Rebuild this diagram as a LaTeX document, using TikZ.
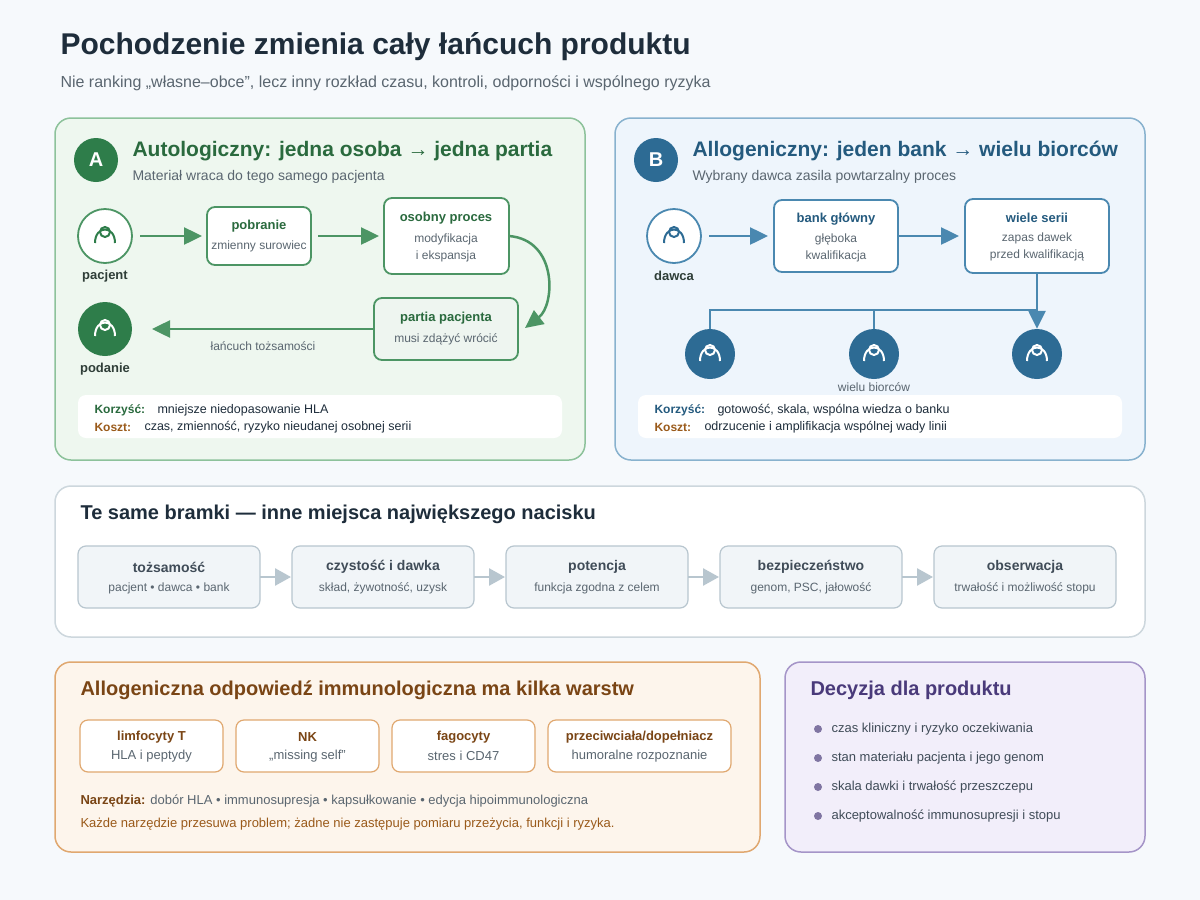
\documentclass[tikz,border=0pt]{standalone}
\usepackage{fontspec}
\setmainfont{Liberation Sans}
\usetikzlibrary{arrows.meta}
\definecolor{bg}{HTML}{F6F9FC}
\definecolor{ttl}{HTML}{1E2D3B}
\definecolor{sub}{HTML}{5A6670}
\definecolor{gA}{HTML}{2E7D4A}
\definecolor{gAt}{HTML}{2A6A3E}
\definecolor{gAf}{HTML}{EEF7EF}
\definecolor{gAs}{HTML}{8DC29B}
\definecolor{gArr}{HTML}{4C9564}
\definecolor{bB}{HTML}{2D6B94}
\definecolor{bBt}{HTML}{245A7E}
\definecolor{bBf}{HTML}{EEF5FC}
\definecolor{bBs}{HTML}{88B2CE}
\definecolor{bArr}{HTML}{4A88B0}
\definecolor{mf}{HTML}{F1F5F8}
\definecolor{ms}{HTML}{B8C6CF}
\definecolor{oF}{HTML}{FDF5EC}
\definecolor{oS}{HTML}{E0A870}
\definecolor{oT}{HTML}{7A4515}
\definecolor{oT2}{HTML}{9A5A1A}
\definecolor{pF}{HTML}{F2EEFA}
\definecolor{pS}{HTML}{A595C8}
\definecolor{pT}{HTML}{4A3A7A}
\definecolor{dk}{HTML}{2F3E38}
\tikzset{
 panel/.style={rounded corners=16pt,line width=1.5pt},
 box/.style={rounded corners=8pt,line width=1.8pt,fill=white},
 bt/.style={font=\bfseries\fontsize{13}{15}\selectfont,anchor=center},
 st/.style={font=\fontsize{12}{17}\selectfont,text=sub,anchor=center,align=center},
 ga/.style={line width=2.5pt,draw=gArr,-{Triangle[length=18pt,width=17pt]}},
 ba/.style={line width=2.5pt,draw=bArr,-{Triangle[length=18pt,width=17pt]}},
 ma/.style={line width=2.5pt,draw=ms,-{Triangle[length=16pt,width=17pt]}},
 person/.pic={\draw[line width=2pt,pic actions] (0,-4) circle (5);
   \draw[line width=2pt,pic actions] (-10,7) .. controls (-10,-11) and (10,-11) .. (10,7);}
}
\begin{document}
\begin{tikzpicture}[x=1pt,y=-1pt]
\useasboundingbox (0,0) rectangle (1200,900);
\fill[bg] (0,0) rectangle (1200,900);
\node[anchor=west,font=\bfseries\fontsize{30}{34}\selectfont,text=ttl] (title) at (57,47) {Pochodzenie zmienia cały łańcuch produktu};
\node[anchor=west,font=\fontsize{16}{18}\selectfont,text=sub] (subt) at (57,83) {Nie ranking „własne–obce”, lecz inny rozkład czasu, kontroli, odporności i wspólnego ryzyka};
% Panel A
\draw[panel,fill=gAf,draw=gAs] (55,118) rectangle (585,460);
\node[circle,fill=gA,minimum size=44pt,inner sep=0,text=white,font=\bfseries\fontsize{20}{22}\selectfont] (cA) at (96,160) {A};
\node[anchor=west,font=\bfseries\fontsize{21}{24}\selectfont,text=gAt] (tA) at (129,151) {Autologiczny: jedna osoba → jedna partia};
\node[anchor=west,font=\fontsize{14}{16}\selectfont,text=sub] (sA) at (129,177) {Materiał wraca do tego samego pacjenta};
\node[circle,draw=gArr,line width=1.8pt,fill=white,minimum size=54pt,inner sep=0] (pac) at (105,236) {};
\pic[draw=gA] at (105,236) {person};
\node[bt,text=dk] (pacl) at (105,276) {pacjent};
\draw[box,draw=gArr] (207,207) rectangle (311,265);
\node[bt,text=gAt] (pob) at (259,226) {pobranie};
\node[st] (pobs) at (259,246) {zmienny surowiec};
\draw[box,draw=gArr] (384,198) rectangle (509,274);
\node[bt,text=gAt] (oso) at (446,218) {osobny proces};
\node[st] (osos) at (446,248) {modyfikacja\\i ekspansja};
\coordinate (a1) at (140,236); \coordinate (a2) at (202,236);
\draw[ga] (a1) -- (a2);
\coordinate (a3) at (318,236); \coordinate (a4) at (379,236);
\draw[ga] (a3) -- (a4);
\coordinate (c1) at (509,236); \coordinate (c2) at (525,328);
\draw[ga] (c1) .. controls (558,240) and (555,305) .. (c2);
\draw[box,draw=gArr,fill=gAf!60!gA!18] (374,298) rectangle (518,360);
\node[bt,text=gAt] (par) at (446,318) {partia pacjenta};
\node[st] (pars) at (446,339) {musi zdążyć wrócić};
\node[circle,fill=gA,minimum size=54pt,inner sep=0] (pod) at (105,329) {};
\pic[draw=white] at (105,329) {person};
\node[bt,text=dk] (podl) at (105,369) {podanie};
\coordinate (a5) at (374,329); \coordinate (a6) at (152,329);
\draw[ga] (a5) -- (a6);
\node[st] (lan) at (263,346) {łańcuch tożsamości};
\fill[white,rounded corners=8pt] (78,395) rectangle (562,438);
\node[anchor=west,font=\bfseries\fontsize{12}{14}\selectfont,text=gAt] (k1) at (91,410) {Korzyść:};
\node[anchor=west,font=\fontsize{12.5}{14}\selectfont,text=ttl] (k1t) at (154,410) {mniejsze niedopasowanie HLA};
\node[anchor=west,font=\bfseries\fontsize{12}{14}\selectfont,text=oT2] (k2) at (91,427) {Koszt:};
\node[anchor=west,font=\fontsize{12.5}{14}\selectfont,text=ttl] (k2t) at (141,427) {czas, zmienność, ryzyko nieudanej osobnej serii};
% Panel B
\draw[panel,fill=bBf,draw=bBs] (615,118) rectangle (1145,460);
\node[circle,fill=bB,minimum size=44pt,inner sep=0,text=white,font=\bfseries\fontsize{20}{22}\selectfont] (cB) at (656,160) {B};
\node[anchor=west,font=\bfseries\fontsize{21}{24}\selectfont,text=bBt] (tB) at (689,151) {Allogeniczny: jeden bank → wielu biorców};
\node[anchor=west,font=\fontsize{14}{16}\selectfont,text=sub] (sB) at (689,177) {Wybrany dawca zasila powtarzalny proces};
\node[circle,draw=bArr,line width=1.8pt,fill=white,minimum size=54pt,inner sep=0] (daw) at (674,236) {};
\pic[draw=bB] at (674,236) {person};
\node[bt,text=dk] (dawl) at (674,276) {dawca};
\draw[box,draw=bArr] (774,200) rectangle (898,272);
\node[bt,text=bBt] (bank) at (836,219) {bank główny};
\node[st] (banks) at (836,248) {głęboka\\kwalifikacja};
\draw[box,draw=bArr] (965,199) rectangle (1109,273);
\node[bt,text=bBt] (wie) at (1037,218) {wiele serii};
\node[st] (wies) at (1037,247) {zapas dawek\\przed kwalifikacją};
\coordinate (b1) at (709,236); \coordinate (b2) at (768,236);
\draw[ba] (b1) -- (b2);
\coordinate (b3) at (898,236); \coordinate (b4) at (959,236);
\draw[ba] (b3) -- (b4);
\foreach \x/\n in {710/r1,874/r2,1037/r3}{
 \node[circle,fill=bB,minimum size=50pt,inner sep=0] (\n) at (\x,354) {};
 \pic[draw=white] at (\x,354) {person};}
\coordinate (h1) at (710,310); \coordinate (h2) at (874,310); \coordinate (h3) at (1037,310);
\draw[line width=2.5pt,draw=bArr] (r1.north) -- (h1) -- (h3);
\draw[line width=2.5pt,draw=bArr] (r2.north) -- (h2);
\coordinate (b5) at (1037,273);
\draw[ba] (b5) -- (r3.north);
\node[st] (wb) at (874,387) {wielu biorców};
\fill[white,rounded corners=8pt] (638,395) rectangle (1122,438);
\node[anchor=west,font=\bfseries\fontsize{12}{14}\selectfont,text=bBt] (k3) at (651,410) {Korzyść:};
\node[anchor=west,font=\fontsize{12.5}{14}\selectfont,text=ttl] (k3t) at (714,410) {gotowość, skala, wspólna wiedza o banku};
\node[anchor=west,font=\bfseries\fontsize{12}{14}\selectfont,text=oT2] (k4) at (651,427) {Koszt:};
\node[anchor=west,font=\fontsize{12.5}{14}\selectfont,text=ttl] (k4t) at (701,427) {odrzucenie i amplifikacja wspólnej wady linii};
% Middle
\draw[panel,fill=white,draw=ms!70] (55,486) rectangle (1145,637);
\node[anchor=west,font=\bfseries\fontsize{20}{24}\selectfont,text=ttl] (tM) at (77,514) {Te same bramki — inne miejsca największego nacisku};
\foreach \i/\a/\b in {0/tożsamość/pacjent • dawca • bank,1/czystość i dawka/skład{,} żywotność{,} uzysk,2/potencja/funkcja zgodna z celem,3/bezpieczeństwo/genom{,} PSC{,} jałowość,4/obserwacja/trwałość i możliwość stopu}{
 \pgfmathsetmacro\xl{78+214*\i}
 \draw[rounded corners=8pt,line width=1.2pt,fill=mf,draw=ms] (\xl,546) rectangle (\xl+182,608);
 \node[bt,text=ttl!85,font=\bfseries\fontsize{14}{16}\selectfont] (g\i) at (\xl+91,567) {\a};
 \node[st,font=\fontsize{12}{14}\selectfont] (gs\i) at (\xl+91,588) {\b};}
\foreach \i in {0,1,2,3}{
 \pgfmathsetmacro\xa{260+214*\i}
 \coordinate (m\i a) at (\xa,577); \coordinate (m\i b) at (\xa+31,577);
 \draw[ma] (m\i a) -- (m\i b);}
% Bottom left
\draw[panel,fill=oF,draw=oS] (55,662) rectangle (760,852);
\node[anchor=west,font=\bfseries\fontsize{20}{24}\selectfont,text=oT] (tO) at (77,690) {Allogeniczna odpowiedź immunologiczna ma kilka warstw};
\foreach \xl/\xr/\a/\b/\n in {80/223/limfocyty T/HLA i peptydy/o1,236/379/NK/„missing self”/o2,392/535/fagocyty/stres i CD47/o3,548/731/{przeciwciała/dopełniacz}/humoralne rozpoznanie/o4}{
 \draw[rounded corners=8pt,line width=1.2pt,fill=white,draw=oS] (\xl,720) rectangle (\xr,772);
 \node[bt,text=oT,font=\bfseries\fontsize{13}{15}\selectfont] (\n) at ({(\xl+\xr)/2},737) {\a};
 \node[st,font=\fontsize{13}{15}\selectfont] (\n s) at ({(\xl+\xr)/2},756) {\b};}
\node[anchor=west,font=\fontsize{13}{15}\selectfont,text=sub] (nz) at (77,801) {\textbf{\textcolor{oT}{Narzędzia:}} dobór HLA • immunosupresja • kapsułkowanie • edycja hipoimmunologiczna};
\node[anchor=west,font=\fontsize{13}{15}\selectfont,text=oT2] (kz) at (77,824) {Każde narzędzie przesuwa problem; żadne nie zastępuje pomiaru przeżycia, funkcji i ryzyka.};
% Bottom right
\draw[panel,fill=pF,draw=pS] (785,662) rectangle (1145,852);
\node[anchor=west,font=\bfseries\fontsize{20}{24}\selectfont,text=pT] (tP) at (807,690) {Decyzja dla produktu};
\foreach \y/\t/\n in {729/czas kliniczny i ryzyko oczekiwania/d1,758/stan materiału pacjenta i jego genom/d2,787/skala dawki i trwałość przeszczepu/d3,816/akceptowalność immunosupresji i stopu/d4}{
 \fill[pT!70] (818,\y) circle (4);
 \node[anchor=west,font=\fontsize{13}{15}\selectfont,text=ttl!85] (\n) at (828,\y) {\t};}
\end{tikzpicture}
\end{document}
